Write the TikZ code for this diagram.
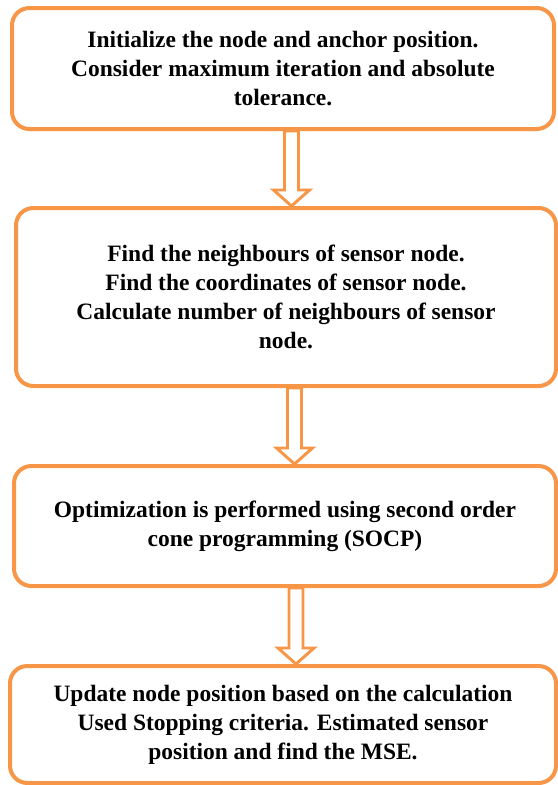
\documentclass[tikz,border=0pt]{standalone}
\usepackage{fontspec}
\setmainfont{Liberation Serif}
\usetikzlibrary{calc}
\definecolor{boxorange}{RGB}{247,150,70}
\tikzset{
    stepbox/.style={draw=boxorange, line width=3pt, rounded corners=13pt, align=center,
        inner sep=0pt, font=\fontsize{17.6}{21.75}\selectfont\bfseries},
    flowarrow/.style={draw=boxorange, line width=2.2pt, fill=white, line join=miter}
}
\newcommand{\hollowarrow}[2]{
    \draw[flowarrow] let \p1=(#1), \p2=(#2) in
        (\x1-5.25pt,\y1) -- (\x1-5.25pt,\y2+12pt) -- (\x1-13.5pt,\y2+12pt) -- (\x2,\y2)
        -- (\x1+13.5pt,\y2+12pt) -- (\x1+5.25pt,\y2+12pt) -- (\x1+5.25pt,\y1) -- cycle;
}

\begin{document}
\begin{tikzpicture}[x=0.75pt, y=-0.75pt]
        \useasboundingbox (0,0) rectangle (557,785);
        \node (init) at (283,68.5) [stepbox, minimum width=406.5pt, minimum height=90.75pt]
            {Initialize the node and anchor position.\\Consider maximum iteration and absolute\\tolerance.};
        \node (neigh) at (286,297) [stepbox, minimum width=405pt, minimum height=133.5pt]
            {Find the neighbours of sensor node.\\Find the coordinates of sensor node.\\Calculate number of neighbours of sensor\\node.};
        \node (socp) at (285,526) [stepbox, minimum width=406.5pt, minimum height=90pt]
            {Optimization is performed using second order\\cone programming (SOCP)};
        \node (update) at (283,724.5) [stepbox, minimum width=409.5pt, minimum height=87.75pt]
            {Update node position based on the calculation\\Used Stopping criteria. Estimated sensor\\position and find the MSE.};
        % arrows between the steps
        \coordinate (a1) at ($(init.south)+(8.5,0)$);
        \coordinate (a2) at ($(neigh.south)+(8.5,0)$);
        \coordinate (a3) at ($(socp.south)+(11,0)$);
        \hollowarrow{a1}{a1 |- neigh.north}
        \hollowarrow{a2}{a2 |- socp.north}
        \hollowarrow{a3}{a3 |- update.north}
    \end{tikzpicture}
\end{document}
